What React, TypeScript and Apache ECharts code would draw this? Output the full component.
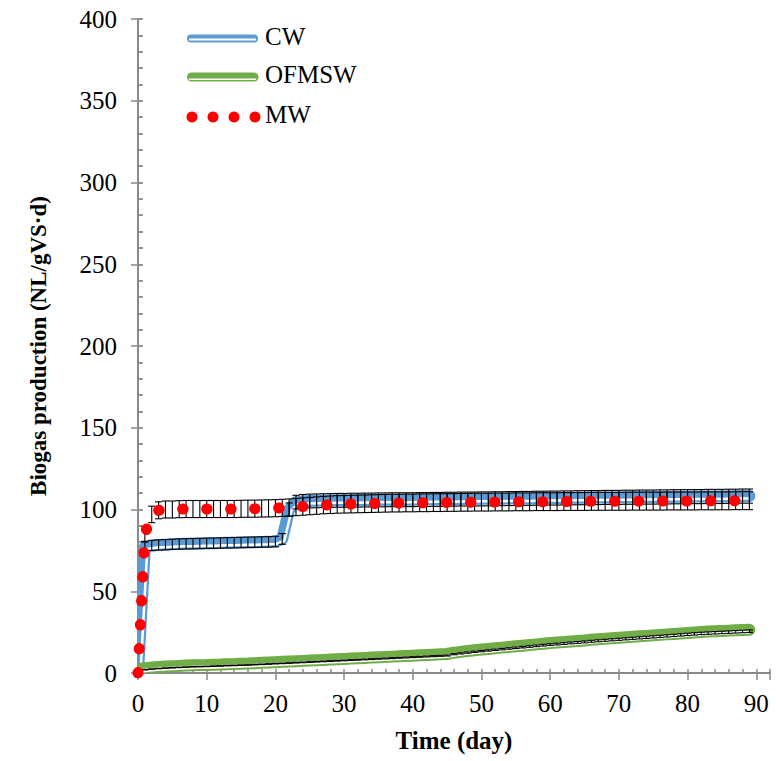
import React, { useEffect, useRef } from "react";
import * as echarts from "echarts";

// Day index (x values)
const days = [
  0, 1, 2, 3, 4, 5, 6, 7, 8, 9,
  10, 11, 12, 13, 14, 15, 16, 17, 18, 19,
  20, 21, 22, 23, 24, 25, 26, 27, 28, 29,
  30, 31, 32, 33, 34, 35, 36, 37, 38, 39,
  40, 41, 42, 43, 44, 45, 46, 47, 48, 49,
  50, 51, 52, 53, 54, 55, 56, 57, 58, 59,
  60, 61, 62, 63, 64, 65, 66, 67, 68, 69,
  70, 71, 72, 73, 74, 75, 76, 77, 78, 79,
  80, 81, 82, 83, 84, 85, 86, 87, 88, 89,
];

const cwValues = [
  0, 77, 78, 78.3, 78.5, 78.7, 78.9, 79, 79.1, 79.2,
  79.3, 79.4, 79.5, 79.6, 79.7, 79.8, 79.9, 80, 80.1, 80.2,
  80.4, 82, 100, 104.5, 105, 105.2, 105.3, 105.4, 105.5, 105.6,
  105.6, 105.7, 105.7, 105.8, 105.8, 105.9, 105.9, 106, 106, 106,
  106, 106.1, 106.1, 106.2, 106.2, 106.3, 106.3, 106.4, 106.4, 106.4,
  106.5, 106.5, 106.6, 106.6, 106.7, 106.7, 106.8, 106.8, 106.9, 106.9,
  107, 107, 107.1, 107.1, 107.2, 107.2, 107.3, 107.3, 107.4, 107.4,
  107.4, 107.5, 107.5, 107.6, 107.6, 107.6, 107.7, 107.7, 107.8, 107.8,
  107.8, 107.9, 107.9, 108, 108, 108, 108.1, 108.1, 108.2, 108.2,
];

const ofmswValues = [
  1.5, 2, 2.4, 2.7, 3, 3.2, 3.4, 3.6, 3.8, 3.9,
  4, 4.2, 4.3, 4.5, 4.6, 4.8, 4.9, 5.1, 5.3, 5.5,
  5.7, 5.9, 6.1, 6.3, 6.5, 6.7, 6.9, 7.1, 7.3, 7.5,
  7.7, 7.9, 8.1, 8.3, 8.5, 8.7, 8.9, 9.1, 9.3, 9.5,
  9.7, 9.9, 10.1, 10.3, 10.5, 10.7, 11.5, 12, 12.5, 13,
  13.4, 13.8, 14.2, 14.6, 15, 15.4, 15.8, 16.2, 16.6, 17,
  17.4, 17.7, 18, 18.4, 18.7, 19, 19.4, 19.7, 20, 20.3,
  20.6, 20.9, 21.2, 21.5, 21.8, 22.1, 22.4, 22.7, 23, 23.3,
  23.6, 23.9, 24.2, 24.4, 24.6, 24.8, 25, 25.2, 25.4, 25.6,
];

const mwValues = [
  0, 85, 97, 99.5, 100, 100, 100.2, 100.3, 100.3, 100.3,
  100.3, 100.3, 100.3, 100.3, 100.3, 100.4, 100.5, 100.5, 100.6, 100.7,
  100.8, 101, 101.2, 101.5, 101.8, 102.1, 102.4, 102.7, 102.9, 103.1,
  103.2, 103.3, 103.4, 103.5, 103.6, 103.7, 103.8, 103.9, 103.9, 104,
  104, 104.1, 104.1, 104.2, 104.2, 104.3, 104.3, 104.4, 104.4, 104.5,
  104.5, 104.5, 104.6, 104.6, 104.6, 104.7, 104.7, 104.7, 104.8, 104.8,
  104.8, 104.8, 104.9, 104.9, 104.9, 104.9, 105, 105, 105, 105,
  105, 105, 105.1, 105.1, 105.1, 105.1, 105.1, 105.2, 105.2, 105.2,
  105.2, 105.2, 105.3, 105.3, 105.3, 105.3, 105.3, 105.4, 105.4, 105.4,
];

// Relative error (standard deviation as fraction of the value)
const cwErrFraction = 0.04;
const ofmswErrFraction = 0.03;
const mwErrFraction = 0.052;

const xTickLabels = ["0", "10", "20", "30", "40", "50", "60", "70", "80", "90"];
const legendNames = ["CW", "OFMSW", "MW"];

const FONT = "'Liberation Serif', 'Times New Roman', serif";
const AXIS_GREY = "#8a8a8a";
const BLUE = "#5b9bd5";
const GREEN = "#70ad47";
const RED = "#ff0000";

function offsetPts(pts: number[][], d: number): number[][] {
  const n = pts.length;
  const out: number[][] = [];
  for (let i = 0; i < n; i++) {
    const norms: number[][] = [];
    if (i > 0) {
      const a = pts[i - 1], b = pts[i];
      const dx = b[0] - a[0], dy = b[1] - a[1];
      const L = Math.hypot(dx, dy) || 1;
      norms.push([dy / L, -dx / L]);
    }
    if (i < n - 1) {
      const a = pts[i], b = pts[i + 1];
      const dx = b[0] - a[0], dy = b[1] - a[1];
      const L = Math.hypot(dx, dy) || 1;
      norms.push([dy / L, -dx / L]);
    }
    let nx = 0, ny = 0;
    norms.forEach((m) => { nx += m[0]; ny += m[1]; });
    const L = Math.hypot(nx, ny) || 1;
    nx /= L; ny /= L;
    const c = Math.max(0.4, nx * norms[0][0] + ny * norms[0][1]);
    out.push([pts[i][0] + (nx * d) / c, pts[i][1] + (ny * d) / c]);
  }
  return out;
}

function compoundSeries(name: string, vals: number[], color: string, width: number, baseOff: number, whiteW: number, whiteOff: number) {
  return {
    type: "custom",
    name,
    coordinateSystem: "cartesian2d",
    clip: true,
    z: 2,
    data: [[days[0], vals[0]]],
    renderItem: (params: any, api: any) => {
      const pts = days.map((d, i) => api.coord([d, vals[i]]));
      return {
        type: "group",
        children: [
          {
            type: "polyline",
            shape: { points: offsetPts(pts, baseOff) },
            style: { stroke: color, lineWidth: width, fill: "none", lineJoin: "round", lineCap: "round" },
          },
          {
            type: "polyline",
            shape: { points: offsetPts(pts, whiteOff) },
            style: { stroke: "#ffffff", lineWidth: whiteW, fill: "none", lineJoin: "round", lineCap: "butt" },
          },
        ],
      };
    },
  };
}

function errorSeries(vals: number[], frac: number, z: number) {
  return {
    type: "custom",
    coordinateSystem: "cartesian2d",
    clip: false,
    z,
    encode: { x: 0, y: 1 },
    data: days.map((d, i) => [d, vals[i], vals[i] * frac]),
    renderItem: (params: any, api: any) => {
      const x = api.value(0);
      const v = api.value(1);
      const e = api.value(2);
      const top = api.coord([x, v + e]);
      const bot = api.coord([x, v - e]);
      const hw = 3.6;
      const st = { stroke: "#000000", lineWidth: 1.1 };
      return {
        type: "group",
        children: [
          { type: "line", shape: { x1: top[0], y1: top[1], x2: bot[0], y2: bot[1] }, style: st },
          { type: "line", shape: { x1: top[0] - hw, y1: top[1], x2: top[0] + hw, y2: top[1] }, style: st },
          { type: "line", shape: { x1: bot[0] - hw, y1: bot[1], x2: bot[0] + hw, y2: bot[1] }, style: st },
        ],
      };
    },
  };
}

export default function App() {
  const ref = useRef<HTMLDivElement>(null);

  useEffect(() => {
    if (!ref.current) return;
    const chart = echarts.init(ref.current, undefined, { renderer: "svg" });

    const axisLine = { show: true, lineStyle: { color: AXIS_GREY, width: 2 } };
    const tickStyle = { color: AXIS_GREY, width: 1.5 };

    const legendText = (y: number, text: string) => ({
      type: "text",
      left: 265,
      top: y - 15,
      style: { text, font: `25px ${FONT}`, fill: "#000" },
    });

    const option: any = {
      animation: false,
      backgroundColor: "#ffffff",
      grid: { left: 138, top: 19, width: 632, height: 654, containLabel: false },
      xAxis: [
        {
          type: "value",
          min: 0,
          max: 92,
          interval: 10,
          position: "bottom",
          axisLine,
          axisTick: { show: true, inside: false, length: 7, lineStyle: tickStyle },
          axisLabel: {
            formatter: (v: number) => (xTickLabels.indexOf(String(v)) >= 0 ? String(v) : ""),
            fontFamily: FONT,
            fontSize: 25,
            color: "#000",
            margin: 18,
          },
          splitLine: { show: false },
          name: "Time (day)",
          nameLocation: "middle",
          nameGap: 55,
          nameTextStyle: { fontFamily: FONT, fontSize: 25, fontWeight: "bold", color: "#000" },
        },
        {
          type: "value",
          min: 0,
          max: 92,
          interval: 2,
          position: "bottom",
          axisLine: { show: false },
          axisTick: { show: true, inside: true, length: 4, lineStyle: tickStyle },
          axisLabel: { show: false },
          splitLine: { show: false },
        },
        {
          type: "value",
          min: 0,
          max: 92,
          position: "top",
          axisLine,
          axisTick: { show: false },
          axisLabel: { show: false },
          splitLine: { show: false },
        },
      ],
      yAxis: [
        {
          type: "value",
          min: 0,
          max: 400,
          interval: 50,
          position: "left",
          axisLine,
          axisTick: { show: true, inside: false, length: 7, lineStyle: tickStyle },
          axisLabel: { fontFamily: FONT, fontSize: 25, color: "#000", margin: 21 },
          splitLine: { show: false },
          name: "Biogas production (NL/gVS·d)",
          nameLocation: "middle",
          nameGap: 88,
          nameTextStyle: { fontFamily: FONT, fontSize: 23, fontWeight: "bold", color: "#000" },
        },
        {
          type: "value",
          min: 0,
          max: 400,
          interval: 10,
          position: "left",
          axisLine: { show: false },
          axisTick: { show: true, inside: true, length: 4, lineStyle: tickStyle },
          axisLabel: { show: false },
          splitLine: { show: false },
        },
        {
          type: "value",
          min: 0,
          max: 400,
          interval: 10,
          position: "right",
          axisLine,
          axisTick: { show: true, inside: false, length: 5, lineStyle: tickStyle },
          axisLabel: { show: false },
          splitLine: { show: false },
        },
      ],
      series: [
        compoundSeries(legendNames[0], cwValues, BLUE, 12, 0, 2.5, -2.5),
        errorSeries(cwValues, cwErrFraction, 3),
        compoundSeries(legendNames[1], ofmswValues, GREEN, 12, 1.5, 3.5, -0.75),
        errorSeries(ofmswValues, ofmswErrFraction, 3),
        errorSeries(mwValues, mwErrFraction, 3),
        {
          type: "line",
          name: legendNames[2],
          data: days.map((d, i) => [d, mwValues[i]]),
          showSymbol: false,
          symbol: "none",
          clip: true,
          z: 5,
          lineStyle: { color: RED, width: 11, type: [0.5, 23.5], cap: "round", join: "round" },
        },
      ],
      graphic: [
        // CW legend sample
        { type: "line", shape: { x1: 191, y1: 38.5, x2: 254, y2: 38.5 }, style: { stroke: BLUE, lineWidth: 8, lineCap: "round" } },
        { type: "line", shape: { x1: 189, y1: 39.5, x2: 256, y2: 39.5 }, style: { stroke: "#fff", lineWidth: 2 } },
        legendText(38.5, legendNames[0]),
        // OFMSW legend sample
        { type: "line", shape: { x1: 191.5, y1: 77, x2: 254, y2: 77 }, style: { stroke: GREEN, lineWidth: 9, lineCap: "round" } },
        { type: "line", shape: { x1: 189, y1: 79.2, x2: 256, y2: 79.2 }, style: { stroke: "#fff", lineWidth: 1.5 } },
        legendText(77, legendNames[1]),
        // MW legend sample
        { type: "circle", shape: { cx: 192, cy: 117, r: 5.5 }, style: { fill: RED } },
        { type: "circle", shape: { cx: 213, cy: 117, r: 5.5 }, style: { fill: RED } },
        { type: "circle", shape: { cx: 234, cy: 117, r: 5.5 }, style: { fill: RED } },
        { type: "circle", shape: { cx: 255, cy: 117, r: 5.5 }, style: { fill: RED } },
        legendText(117, legendNames[2]),
      ],
    };

    chart.setOption(option);
    return () => chart.dispose();
  }, []);

  return (
    <div
      ref={ref}
      style={{ position: "fixed", left: 0, top: 0, width: 776, height: 761, background: "#fff" }}
    />
  );
}
